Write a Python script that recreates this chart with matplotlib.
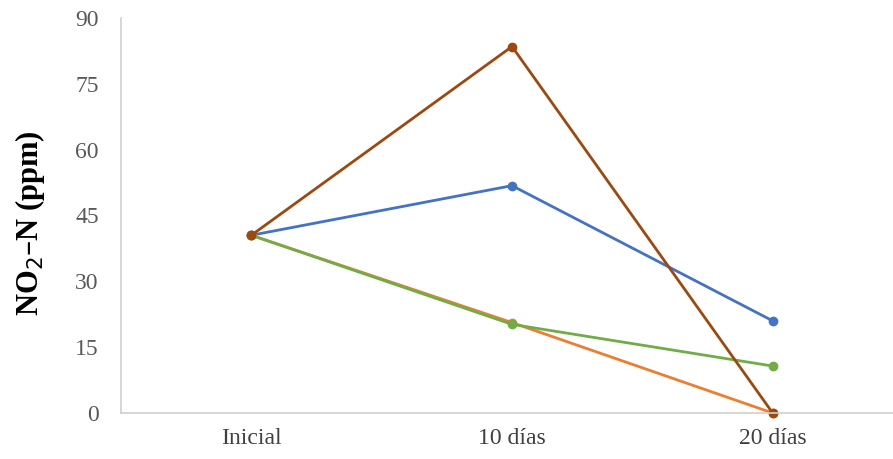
import matplotlib.pyplot as plt

# Categorías y series (NO2-N en ppm)
categorias = ['Inicial', '10 días', '20 días']
serie_azul = [40.5, 51.8, 21.0]
serie_naranja = [40.5, 20.6, 0.0]
serie_verde = [40.5, 20.2, 10.7]
serie_marron = [40.5, 83.5, 0.0]
ticks_y = [0, 15, 30, 45, 60, 75, 90]

fig = plt.figure(figsize=(8.93, 4.59), dpi=100)
# el eje horizontal sigue un poco más allá del borde derecho
ax = fig.add_axes([121 / 893, 46 / 459, 782 / 893, 395 / 459])

x = range(len(categorias))
for valores, color in [(serie_azul, '#4472C4'),
                       (serie_naranja, '#ED7D31'),
                       (serie_verde, '#70AD47'),
                       (serie_marron, '#9E480E')]:
    ax.plot(x, valores, color=color, linewidth=2, marker='o', markersize=6,
            clip_on=False)

ax.set_xlim(-0.5, 2.5)
ax.set_ylim(0, 90)
ax.set_yticks(ticks_y)
ax.set_xticks(list(x))
ax.set_xticklabels(categorias)

for s in ['top', 'right']:
    ax.spines[s].set_visible(False)
for s in ['left', 'bottom']:
    ax.spines[s].set_color('#d0d0d0')
    ax.spines[s].set_linewidth(1.2)

ax.tick_params(length=0)
ax.tick_params(axis='y', pad=16, labelsize=17, labelcolor='#595959')
ax.tick_params(axis='x', pad=11, labelsize=17, labelcolor='#404040')
for lab in ax.get_xticklabels() + ax.get_yticklabels():
    lab.set_family('Liberation Serif')

ax.set_ylabel('NO$_2$–N (ppm)', fontsize=22, fontweight='bold',
              family='Liberation Serif')
ax.yaxis.set_label_coords(-0.095, 0.48)

fig.savefig('out.png', dpi=100)
